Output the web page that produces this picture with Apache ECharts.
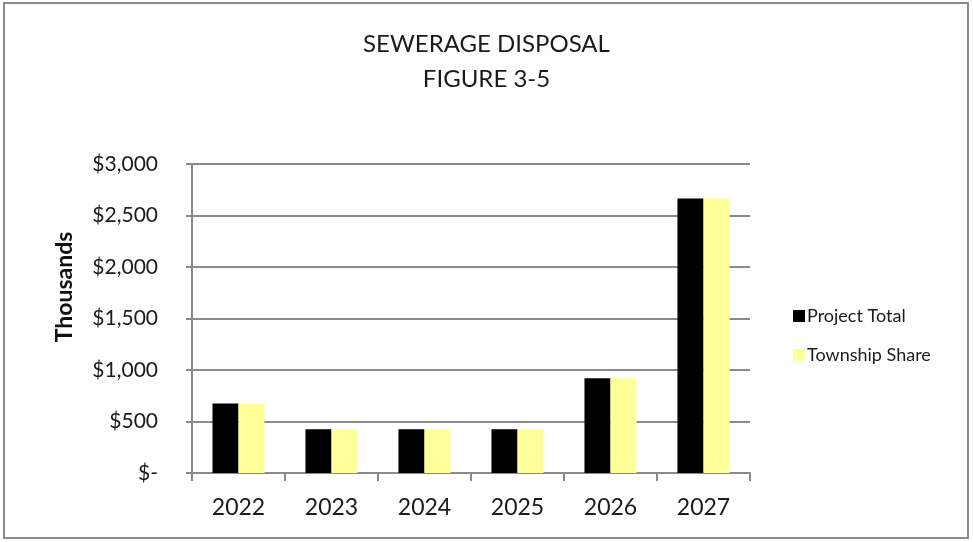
<!DOCTYPE html>
<html>
<head>
<meta charset="utf-8">
<script src="https://cdn.jsdelivr.net/npm/echarts@6/dist/echarts.min.js"></script>
<style>
html,body{margin:0;padding:0;background:#fff;}
#chart{width:973px;height:542px;}
</style>
</head>
<body>
<div id="chart"></div>
<script>
const categories = ['2022', '2023', '2024', '2025', '2026', '2027'];
const projectTotal = [675, 425, 425, 425, 920, 2665];
const townshipShare = [675, 425, 425, 425, 920, 2665];
const seriesNames = ['Project Total', 'Township Share'];
const titleLines = ['SEWERAGE DISPOSAL', 'FIGURE 3-5'];
const yAxisTitle = 'Thousands';

const FONT = 'Lato, "Open Sans", sans-serif';
const chart = echarts.init(document.getElementById('chart'));
chart.setOption({
  animation: false,
  backgroundColor: '#fff',
  textStyle: { fontFamily: FONT },
  title: {
    text: titleLines.join('\n'),
    left: 'center',
    top: 22,
    textStyle: { fontFamily: FONT, fontSize: 24, fontWeight: 'normal', color: '#1a1a1a', lineHeight: 35 }
  },
  legend: {
    orient: 'vertical',
    left: 788,
    top: 302,
    itemWidth: 12,
    itemHeight: 12,
    itemGap: 21,
    icon: 'rect',
    textStyle: { fontFamily: FONT, fontSize: 18, color: '#1a1a1a', padding: [0, 0, 0, -3] },
    data: seriesNames
  },
  grid: { left: 192, right: 223, top: 164, bottom: 69 },
  xAxis: {
    type: 'category',
    data: categories,
    axisLine: { lineStyle: { color: '#8a8a8a', width: 2 } },
    axisTick: { show: true, length: 8, alignWithLabel: false, lineStyle: { color: '#8a8a8a', width: 2 } },
    axisLabel: { fontFamily: FONT, fontSize: 23, color: '#1a1a1a', margin: 23 }
  },
  yAxis: {
    type: 'value',
    min: 0,
    max: 3000,
    interval: 500,
    axisLine: { show: true, lineStyle: { color: '#8a8a8a', width: 2 } },
    axisTick: { show: true, length: 6, lineStyle: { color: '#8a8a8a', width: 2 } },
    splitLine: { lineStyle: { color: '#8a8a8a', width: 2 } },
    axisLabel: {
      fontFamily: FONT, fontSize: 21, color: '#1a1a1a', margin: 34,
      formatter: v => v === 0 ? '$-' : '$' + v.toLocaleString('en-US')
    }
  },
  graphic: [
    {
      type: 'rect',
      shape: { x: 4, y: 3, width: 964, height: 535 },
      style: { fill: 'none', stroke: '#8a8a8a', lineWidth: 2 },
      silent: true
    },
    {
      type: 'text',
      x: 65,
      y: 287,
      rotation: Math.PI / 2,
      style: {
        text: yAxisTitle,
        fontFamily: FONT,
        fontSize: 23,
        fontWeight: 'bold',
        fill: '#111',
        align: 'center',
        verticalAlign: 'middle'
      }
    }
  ],
  series: [
    {
      name: seriesNames[0],
      type: 'bar',
      data: projectTotal,
      itemStyle: { color: '#000000' },
      barGap: '0%',
      barCategoryGap: '44%'
    },
    {
      name: seriesNames[1],
      type: 'bar',
      data: townshipShare,
      itemStyle: { color: '#FFFF99' }
    }
  ]
});
</script>
</body>
</html>
